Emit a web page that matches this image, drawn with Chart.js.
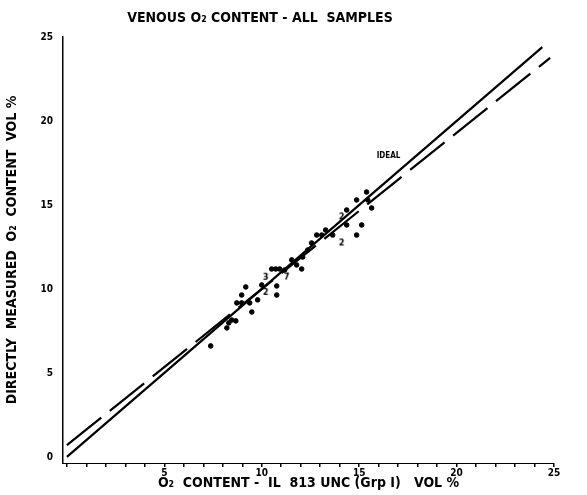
<!DOCTYPE html>
<html lang="en">
<head>
  <meta charset="UTF-8">
  <title>Venous O2 content</title>
  <style>
    html, body { margin: 0; padding: 0; background: #fff; }
    #wrap { width: 587px; height: 495px; }
  </style>
</head>
<body>
  <div id="wrap"><canvas id="myChart" width="587" height="495"></canvas></div>

<script src="https://cdn.jsdelivr.net/npm/chart.js"></script>
<script>
  // single samples (IL 813 vs directly measured)
  var sampleX = [7.38, 8.21, 8.31, 8.46, 8.67, 9.49, 8.72, 8.97, 9.38, 8.97, 9.18, 9.79, 10.0,
    10.77, 10.77, 10.51, 10.72, 10.92, 11.54, 12.05, 11.79, 12.1, 12.56, 12.82, 13.08, 13.64,
    14.36, 14.36, 14.87, 14.87, 15.13, 15.38, 15.64, 15.44, 13.28, 12.36, 11.18];
  var sampleY = [6.61, 7.68, 7.98, 8.15, 8.10, 8.63, 9.17, 9.17, 9.17, 9.64, 10.12, 9.35, 10.24,
    10.18, 9.64, 11.19, 11.19, 11.19, 11.73, 11.19, 11.43, 11.9, 12.74, 13.21, 13.21, 13.21,
    14.7, 13.81, 15.3, 13.21, 13.81, 15.77, 14.82, 15.3, 13.51, 12.32, 11.13];

  // coincident samples, plotted as a count
  var multiX = [10.2, 10.2, 11.28, 14.1, 14.1];
  var multiY = [9.8, 10.7, 10.71, 12.74, 14.29];
  var multiCount = ['2', '3', '7', '2', '2'];

  // line of identity and the fitted line
  var idealX = [0, 24.4];
  var idealY = [0, 24.4];
  var fitX = [0, 24.8];
  var fitY = [0.7, 23.76];

  var xTicks = [0, 1, 2, 3, 4, 5, 6, 7, 8, 9, 10, 11, 12, 13, 14, 15, 16, 17, 18, 19, 20, 21, 22, 23, 24, 25];
  var yTicks = [0, 5, 10, 15, 20, 25];

  var FONT = "'DejaVu Sans Condensed', 'Liberation Sans Narrow', 'DejaVu Sans', sans-serif";

  function pts(xs, ys) {
    var out = [];
    for (var i = 0; i < xs.length; i++) out.push({ x: xs[i], y: ys[i] });
    return out;
  }

  function digitStyle(txt) {
    var c = document.createElement('canvas');
    c.width = 9; c.height = 11;
    var g = c.getContext('2d');
    g.fillStyle = '#000';
    g.font = 'bold 9px ' + FONT;
    g.textAlign = 'center';
    g.textBaseline = 'middle';
    g.fillText(txt, 4.5, 6);
    return c;
  }

  var labelsPlugin = {
    id: 'labels',
    afterDraw: function (chart) {
      var ctx = chart.ctx;
      var xs = chart.scales.x, ys = chart.scales.y;
      ctx.save();
      ctx.fillStyle = '#000';
      ctx.textAlign = 'center';
      ctx.textBaseline = 'middle';
      ctx.font = 'bold 14px ' + FONT;
      ctx.fillText('VENOUS O\u2082 CONTENT - ALL  SAMPLES', 260, 18);
      ctx.font = 'bold 8px ' + FONT;
      ctx.textAlign = 'left';
      ctx.fillText('IDEAL', xs.getPixelForValue(15.9), ys.getPixelForValue(17.95));
      ctx.restore();
    }
  };

  var ctx = document.getElementById('myChart');

  new Chart(ctx, {
    type: 'scatter',
    data: {
      datasets: [{
        label: 'samples',
        data: pts(sampleX, sampleY),
        backgroundColor: '#000',
        borderColor: '#000',
        pointRadius: 2.3,
        pointHoverRadius: 2.3
      },
      {
        label: 'coincident',
        data: pts(multiX, multiY),
        pointStyle: multiCount.map(digitStyle)
      },
      {
        label: 'ideal',
        data: pts(idealX, idealY),
        showLine: true,
        borderColor: '#000',
        borderWidth: 2.2,
        pointRadius: 0
      },
      {
        label: 'fit',
        data: pts(fitX, fitY),
        showLine: true,
        borderColor: '#000',
        borderWidth: 2.2,
        borderDash: [44, 11],
        pointRadius: 0
      }]
    },
    options: {
      responsive: false,
      animation: false,
      layout: { padding: { top: 37, right: 33, left: 0, bottom: 0 } },
      plugins: {
        legend: { display: false },
        tooltip: { enabled: false }
      },
      scales: {
        x: {
          type: 'linear',
          min: -0.2,
          max: 25,
          afterBuildTicks: function (s) { s.ticks = xTicks.map(function (v) { return { value: v }; }); },
          afterFit: function (s) { s.height = 32; },
          border: { display: true, color: '#000', width: 1, dash: [2, 3] },
          grid: { drawOnChartArea: false, drawTicks: true, tickLength: 4, color: '#000', lineWidth: 1.5 },
          ticks: {
            autoSkip: false,
            maxRotation: 0,
            padding: 0,
            color: '#000',
            font: { family: FONT, size: 10, weight: 'bold' },
            callback: function (v) { return (v > 0 && v % 5 === 0) ? String(v) : ''; }
          },
          title: {
            display: true,
            text: 'O\u2082  CONTENT -  IL  813 UNC (Grp I)   VOL %',
            color: '#000',
            font: { family: FONT, size: 14, weight: 'bold' },
            padding: { top: 0, bottom: 3 }
          }
        },
        y: {
          type: 'linear',
          min: -0.36,
          max: 25,
          afterBuildTicks: function (s) { s.ticks = yTicks.map(function (v) { return { value: v }; }); },
          afterFit: function (s) { s.width = 63; },
          border: { display: true, color: '#000', width: 1.5, dash: [4, 3] },
          grid: { drawOnChartArea: false, drawTicks: false },
          ticks: {
            padding: 10,
            color: '#000',
            font: { family: FONT, size: 10, weight: 'bold' },
            callback: function (v) { return String(v); }
          },
          title: {
            display: true,
            text: 'DIRECTLY  MEASURED  O\u2082  CONTENT  VOL %',
            color: '#000',
            font: { family: FONT, size: 14, weight: 'bold' },
            padding: { top: 4, bottom: 0 }
          }
        }
      }
    },
    plugins: [labelsPlugin]
  });
</script>
</body>
</html>
